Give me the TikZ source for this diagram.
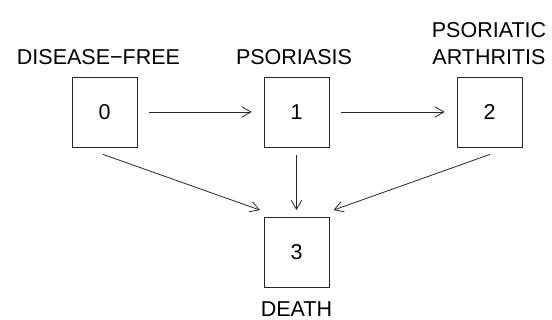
\documentclass[tikz,border=0pt]{standalone}
\usepackage{fontspec}
\setmainfont{Liberation Sans}
\usetikzlibrary{arrows.meta,calc}
\begin{document}
\begin{tikzpicture}[x=1pt,y=-1pt,
  statebox/.style={draw=black!85,line width=0.8pt,minimum width=65pt,minimum height=70pt,inner sep=0pt,font=\fontsize{21.5}{24}\selectfont},
  lbl/.style={anchor=base,inner sep=0pt,font=\fontsize{21.5}{24}\selectfont},
  arr/.style={draw=black!85,line width=0.8pt,-{Straight Barb[length=9pt,width=10.5pt,line width=0.8pt]}}]
\useasboundingbox (0,0) rectangle (552,320);
\node[statebox] (n0) at (104.5,112) {0};
\node[statebox] (n1) at (296.5,112) {1};
\node[statebox] (n2) at (489.5,112) {2};
\node[statebox] (n3) at (296.5,252.5) {3};
\node[lbl] (l0) at (98.5,65) {DISEASE−FREE};
\node[lbl] (l1) at (294,65) {PSORIASIS};
\node[lbl] (l2a) at (489,38) {PSORIATIC};
\node[lbl] (l2b) at (489,65) {ARTHRITIS};
\node[lbl] (l3) at (296.5,317) {DEATH};
\draw[arr] ($(n0.east)+(12,0)$) -- ($(n1.west)+(-12,0)$);
\draw[arr] ($(n1.east)+(12,0)$) -- ($(n2.west)+(-12,0)$);
\draw[arr] ($(n1.south)+(0,8)$) -- ($(n3.north)+(0,-7)$);
\draw[arr] ($(n0.south)+(-1.5,7)$) -- ($(n3.north)+(-36.5,-7)$);
\draw[arr] ($(n2.south)+(0.5,7)$) -- ($(n3.north)+(37,-7)$);
\end{tikzpicture}
\end{document}
